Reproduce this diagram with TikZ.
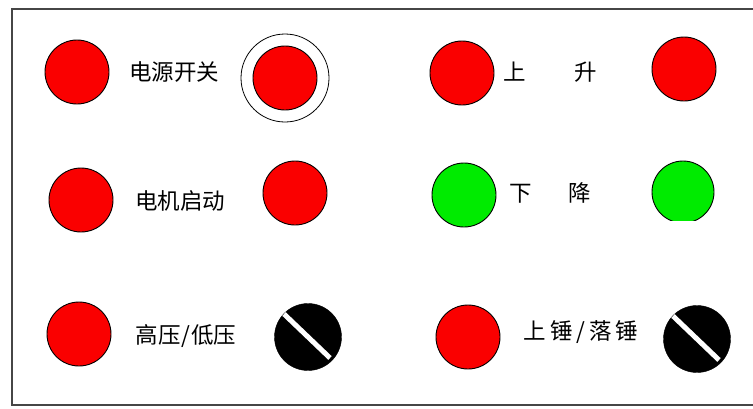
\documentclass[tikz,border=0pt]{standalone}
\usepackage{fontspec}
\newfontfamily\cjk{Noto Sans CJK SC}
\definecolor{lampred}{RGB}{250,0,0}
\definecolor{lampgreen}{RGB}{0,235,0}
\definecolor{framegray}{RGB}{70,70,70}

\begin{document}
\begin{tikzpicture}[x=1pt,y=-1pt,
    lamp/.style={circle,draw=black,line width=0.9pt,fill=lampred,minimum size=64pt,inner sep=0pt},
    greenlamp/.style={lamp,fill=lampgreen},
    knob/.style={circle,draw=black,fill=black,minimum size=67pt,inner sep=0pt},
    ring/.style={circle,draw=black,line width=0.8pt,minimum size=88pt,inner sep=0pt},
    label/.style={font=\cjk\fontsize{22.5}{22.5}\selectfont,inner sep=0pt,anchor=center}]
            \useasboundingbox (0,0) rectangle (753,408);
            \draw[framegray,line width=2pt] (753,9) -- (12,9) -- (12,405) -- (753,405);
            % left half
            \node[lamp] (power) at (77,72) {};
            \node[label] (powertxt) at (174,72) {电源开关};
            \node[ring] (powerring) at (285,78) {};
            \node[lamp] (powerbtn) at (285,78) {};
            \node[lamp] (motor) at (81,200) {};
            \node[label] (motortxt) at (180,201) {电机启动};
            \node[lamp] (motorbtn) at (295,193) {};
            \node[lamp] (press) at (79,334) {};
            \node[label] (presstxt) at (186,336) {高压\hspace{1pt}/\hspace{1pt}低压};
            \node[knob] (pressknob) at (308,337) {};
            \draw[white,line width=5pt] ([shift={(-24,-23)}]pressknob.center) -- ([shift={(22,21)}]pressknob.center);
            % right half
            \node[lamp] (up) at (462,73) {};
            \node[label] (uptxt) at (550,72) {上\hspace{49pt}升};
            \node[lamp] (upbtn) at (684,69) {};
            \node[greenlamp] (down) at (464,195) {};
            \node[label] (downtxt) at (550,193) {下\hspace{37pt}降};
            \begin{scope}
                \clip (640,150) rectangle (730,220);
                \node[greenlamp,minimum size=62pt] (downbtn) at (683,192) {};
            \end{scope}
            \node[lamp] (hammer) at (468,337) {};
            \node[label] (hammertxt) at (581,332) {上\hspace{4pt}锤\hspace{4pt}/\hspace{4pt}落\hspace{4pt}锤};
            \node[knob] (hammerknob) at (697,339) {};
            \draw[white,line width=5pt] ([shift={(-24,-23)}]hammerknob.center) -- ([shift={(22,21)}]hammerknob.center);
        \end{tikzpicture}
\end{document}
